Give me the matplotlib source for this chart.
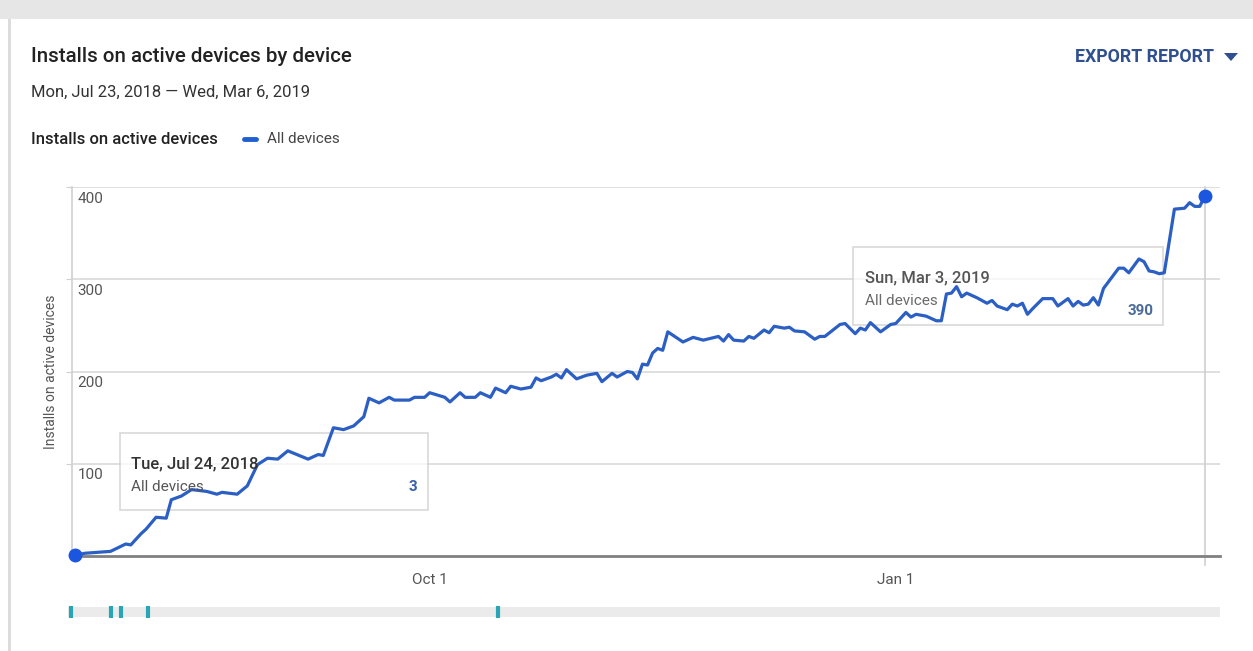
import pandas as pd
import matplotlib
matplotlib.use("Agg")
import matplotlib.pyplot as plt
import matplotlib.dates as mdates
from matplotlib.patches import Rectangle, Polygon

plt.rcParams['font.family'] = ['Roboto', 'DejaVu Sans']

# data: days since Mon, Jul 23, 2018 -> installs on active devices (last point = Sun, Mar 3, 2019)
start = pd.Timestamp("2018-07-23")
end = pd.Timestamp("2019-03-06")
day_offsets = [0, 2, 7, 10, 11, 13, 14, 16, 18, 19, 21, 23, 26, 28, 29, 32, 34, 36, 38, 40,
               42, 46, 48, 49, 51, 53, 55, 57, 58, 60, 62, 63, 66, 67, 69, 70, 73, 74, 76, 77,
               79, 80, 82, 83, 85, 86, 88, 90, 91, 92, 94, 95, 96, 97, 99, 101, 103, 104, 106, 107,
               109, 110, 111, 112, 113, 114, 115, 116, 117, 120, 122, 124, 127, 128, 129, 130, 132, 133, 134, 136,
               137, 138, 140, 141, 142, 144, 146, 147, 148, 151, 152, 154, 155, 156, 157, 159, 161, 162, 164, 165,
               166, 168, 170, 171, 172, 173, 174, 175, 176, 178, 180, 181, 182, 184, 185, 186, 187, 188, 189, 191,
               193, 194, 196, 197, 198, 199, 200, 201, 202, 203, 206, 207, 208, 210, 211, 212, 213, 214, 215, 217,
               219, 220, 221, 222, 223]
installs = [1, 3, 5, 13, 12, 24, 29, 42, 41, 61, 65, 72, 70, 67, 69, 67, 76, 99, 106, 105,
            114, 105, 110, 109, 139, 137, 141, 151, 171, 166, 172, 169, 169, 172, 172, 177, 172, 167, 177, 172,
            172, 177, 172, 182, 177, 184, 181, 183, 193, 190, 194, 197, 193, 202, 192, 196, 198, 189, 198, 194,
            200, 199, 192, 208, 207, 220, 225, 223, 243, 232, 237, 234, 238, 233, 240, 234, 233, 238, 236, 245,
            242, 249, 247, 248, 244, 243, 235, 238, 238, 251, 252, 241, 247, 245, 253, 243, 251, 252, 264, 259,
            262, 260, 255, 255, 284, 285, 292, 281, 285, 280, 274, 277, 271, 267, 273, 271, 274, 262, 268, 279,
            279, 271, 279, 271, 276, 272, 273, 280, 272, 290, 312, 312, 307, 322, 319, 309, 308, 306, 307, 376,
            377, 383, 379, 379, 390]
# annotation markers on the timeline strip (days since start)
event_days = [-0.8, 7.1, 9.1, 14.4, 83.5]
y_ticks = [100, 200, 300, 400]
x_tick_dates = ["2018-10-01", "2019-01-01"]

dates = start + pd.to_timedelta(day_offsets, unit="D")
events = start + pd.to_timedelta(event_days, unit="D")

W, H = 1253, 651
fig = plt.figure(figsize=(W / 100, H / 100), dpi=100)
fig.patch.set_facecolor("white")


def fx(x):
    return x / W


def fy(y):
    return 1 - y / H


# page chrome
fig.patches.append(Rectangle((0, fy(19)), 1, 19 / H, transform=fig.transFigure,
                             facecolor="#e6e6e6", edgecolor="none"))
fig.patches.append(Rectangle((fx(8), 0), 2.5 / W, fy(19), transform=fig.transFigure,
                             facecolor="#dcdcdc", edgecolor="none"))

# header texts
fig.text(fx(31), fy(56), "Installs on active devices by device", fontsize=14.8,
         fontweight="medium", color="#222222", va="center")
fig.text(fx(31), fy(92), "Mon, Jul 23, 2018 \u2014 Wed, Mar 6, 2019", fontsize=12,
         color="#333333", va="center")
fig.text(fx(31), fy(139), "Installs on active devices", fontsize=12,
         fontweight="medium", color="#222222", va="center")
fig.lines.append(plt.Line2D([fx(244), fx(256)], [fy(139), fy(139)], transform=fig.transFigure,
                            color="#1f5fd0", lw=3.5, solid_capstyle="round"))
fig.text(fx(267), fy(139), "All devices", fontsize=11, color="#444444", va="center")
fig.text(fx(1214), fy(57), "EXPORT REPORT", fontsize=12.8, fontweight="bold",
         color="#2f4f8f", va="center", ha="right")
fig.patches.append(Polygon([(fx(1224), fy(53)), (fx(1238), fy(53)), (fx(1231), fy(61))],
                           closed=True, transform=fig.transFigure,
                           facecolor="#2f4f8f", edgecolor="none"))

# main axes
ax = fig.add_axes([fx(72), fy(556), (1220 - 72) / W, (556 - 187) / H])
ax.set_ylim(0, 400)
ax.set_xlim(start - pd.Timedelta(days=0.6), end)
ax.set_yticks(y_ticks)
ax.grid(axis="y", color="#d9d9d9", lw=1.2)
ax.set_axisbelow(True)
for s in ["top", "right"]:
    ax.spines[s].set_visible(False)
ax.spines["left"].set_color("#d0d0d0")
ax.spines["left"].set_linewidth(1.2)
ax.spines["bottom"].set_color("#808080")
ax.spines["bottom"].set_linewidth(2)
ax.tick_params(axis="y", length=4, color="#d0d0d0", labelleft=False)
ax.set_xticks(pd.to_datetime(x_tick_dates))
ax.xaxis.set_major_formatter(mdates.DateFormatter("%b %-d"))
ax.tick_params(axis="x", length=0, pad=12, labelsize=11, labelcolor="#555555")

for v in y_ticks:
    ax.text(0.005, v - 5, str(v), transform=ax.get_yaxis_transform(), fontsize=11,
            color="#555555", va="top", ha="left")
ax.set_ylabel("Installs on active devices", fontsize=10, color="#555555")
ax.yaxis.set_label_coords(-0.012, 0.5)

# hover line at the last date
ax.axvline(dates[-1], ymin=-0.025, ymax=1, color="#d0d0d0", lw=1.2, clip_on=False, zorder=1)

# tooltip boxes
for (x0, y0, x1, y1) in [(120, 433, 428, 510), (853, 247, 1163, 325)]:
    ax.add_patch(Rectangle((fx(x0), fy(y1)), (x1 - x0) / W, (y1 - y0) / H,
                           transform=fig.transFigure, facecolor="white", alpha=0.75,
                           edgecolor="#cccccc", lw=1.2, zorder=1.5, clip_on=False))
fig.text(fx(131), fy(464), "Tue, Jul 24, 2018", fontsize=12, fontweight="medium",
         color="#333333", va="center", zorder=2)
fig.text(fx(131), fy(487), "All devices", fontsize=11, color="#555555", va="center", zorder=2)
fig.text(fx(417), fy(487), "3", fontsize=11, fontweight="bold", color="#3a5fa8",
         va="center", ha="right", zorder=2)
fig.text(fx(865), fy(278), "Sun, Mar 3, 2019", fontsize=12, fontweight="medium",
         color="#555555", va="center", zorder=2)
fig.text(fx(865), fy(301), "All devices", fontsize=11, color="#6a6a6a", va="center", zorder=2)
fig.text(fx(1154), fy(311), "390", fontsize=11, fontweight="bold", color="#4a6a9a",
         va="center", ha="right", zorder=2)

# series
ax.plot(dates, installs, color="#2b5fc4", lw=2.3, zorder=3, solid_joinstyle="round")
ax.plot([dates[0], dates[-1]], [installs[0], installs[-1]], "o", color="#1a56e0",
        ms=9, zorder=4, clip_on=False)

# timeline strip with annotation markers
ax2 = fig.add_axes([fx(68), fy(619), (1220 - 68) / W, 14 / H])
ax2.set_xlim(start - pd.Timedelta(days=1.4), end)
ax2.set_ylim(0, 1)
ax2.axhspan(0.15, 0.85, color="#ebebeb", lw=0)
ax2.vlines(events, 0.05, 0.95, color="#2aa5b5", lw=3)
ax2.axis("off")

fig.savefig("out.png", dpi=100)
